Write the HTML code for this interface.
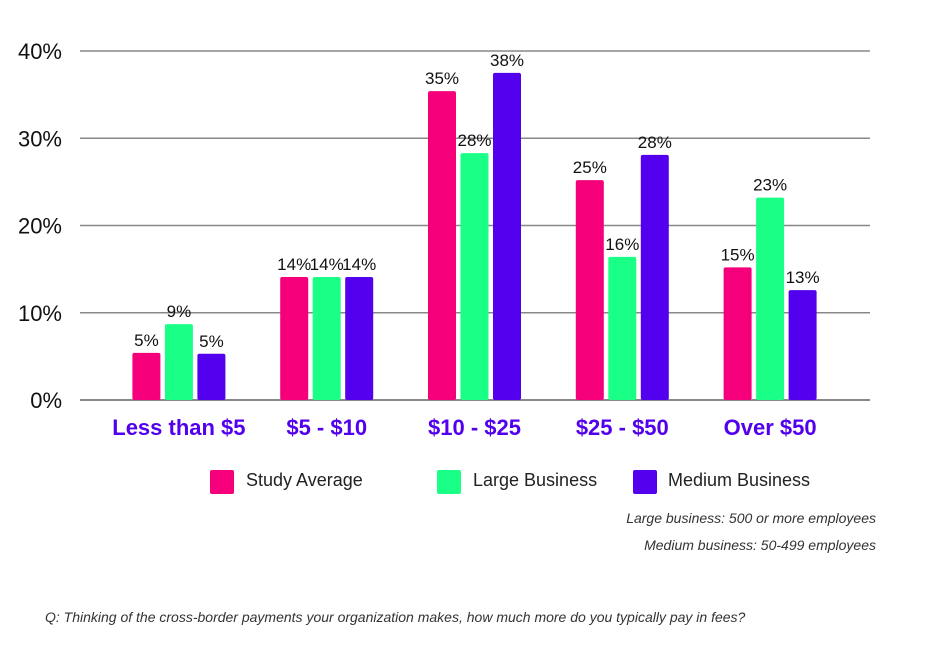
<!DOCTYPE html>
<html><head><meta charset="utf-8"><style>
body{margin:0;background:#fff;width:936px;height:659px;overflow:hidden;font-family:"Liberation Sans",sans-serif}
.abs{position:absolute}
</style></head><body>
<div style="position:relative;width:936px;height:659px">
<svg id="chart" width="936" height="659" style="position:absolute;left:0;top:0"></svg>
<div class="abs" style="left:210px;top:470px;width:24px;height:24px;background:#f5007a;border-radius:2px"></div>
<div class="abs" style="left:246px;top:470px;font-size:18px;color:#222">Study Average</div>
<div class="abs" style="left:437px;top:470px;width:24px;height:24px;background:#1aff86;border-radius:2px"></div>
<div class="abs" style="left:473px;top:470px;font-size:18px;color:#222">Large Business</div>
<div class="abs" style="left:633px;top:470px;width:24px;height:24px;background:#5200ee;border-radius:2px"></div>
<div class="abs" style="left:668px;top:470px;font-size:18px;color:#222">Medium Business</div>
<div class="abs" style="right:60px;top:510px;font-size:14px;font-style:italic;color:#333">Large business: 500 or more employees</div>
<div class="abs" style="right:60px;top:537px;font-size:14px;font-style:italic;color:#333">Medium business: 50-499 employees</div>
<div class="abs" style="left:45px;top:609px;font-size:14px;font-style:italic;color:#333">Q: Thinking of the cross-border payments your organization makes, how much more do you typically pay in fees?</div>
</div>
<script>
const categories=["Less than $5","$5 - $10","$10 - $25","$25 - $50","Over $50"];
const studyAvg=[5.4,14.1,35.4,25.2,15.2];
const largeBiz=[8.7,14.1,28.3,16.4,23.2];
const mediumBiz=[5.3,14.1,37.5,28.1,12.6];
const yTicks=[0,10,20,30,40];
const seriesNames=["study-average","large-business","medium-business"];
const seriesColors=["#f5007a","#1aff86","#5200ee"];
const svg=document.getElementById('chart');
const NS='http://www.w3.org/2000/svg';
const x0=105,x1=844,yBase=400,yTop=51;
const y=v=>yBase-(v/40)*(yBase-yTop);
const bandW=(x1-x0)/categories.length;
const xc=i=>x0+bandW*(i+0.5);
function mk(t,a){const e=document.createElementNS(NS,t);for(const k in a)e.setAttribute(k,a[k]);svg.appendChild(e);return e;}
yTicks.forEach(t=>{
 const l=mk('line',{x1:80,x2:870,y1:y(t),y2:y(t),stroke:'#888','stroke-width':t===0?2:1.5});
 
 
 const tx=mk('text',{x:62,y:y(t)+8,'text-anchor':'end','font-size':22,fill:'#111'});
 tx.textContent=t+'%';
 
 
});
const series=[studyAvg,largeBiz,mediumBiz];
const bw=28,gap=4.5;
categories.forEach((c,i)=>{
 series.forEach((s,j)=>{
  const bx=xc(i)+(j-1)*(bw+gap)-bw/2;
  const r=mk('rect',{x:bx,y:y(s[i]),width:bw,height:yBase-y(s[i]),fill:seriesColors[j],rx:2});
  
  
  const t=mk('text',{x:bx+bw/2,y:y(s[i])-7,'text-anchor':'middle','font-size':17,fill:'#111'});
  t.textContent=Math.round(s[i])+'%';
  
  
 });
 const ct=mk('text',{x:xc(i),y:435,'text-anchor':'middle','font-size':22,'font-weight':'bold',fill:'#5200ee'});
 ct.textContent=c;
 
 
});
</script>
</body></html>
